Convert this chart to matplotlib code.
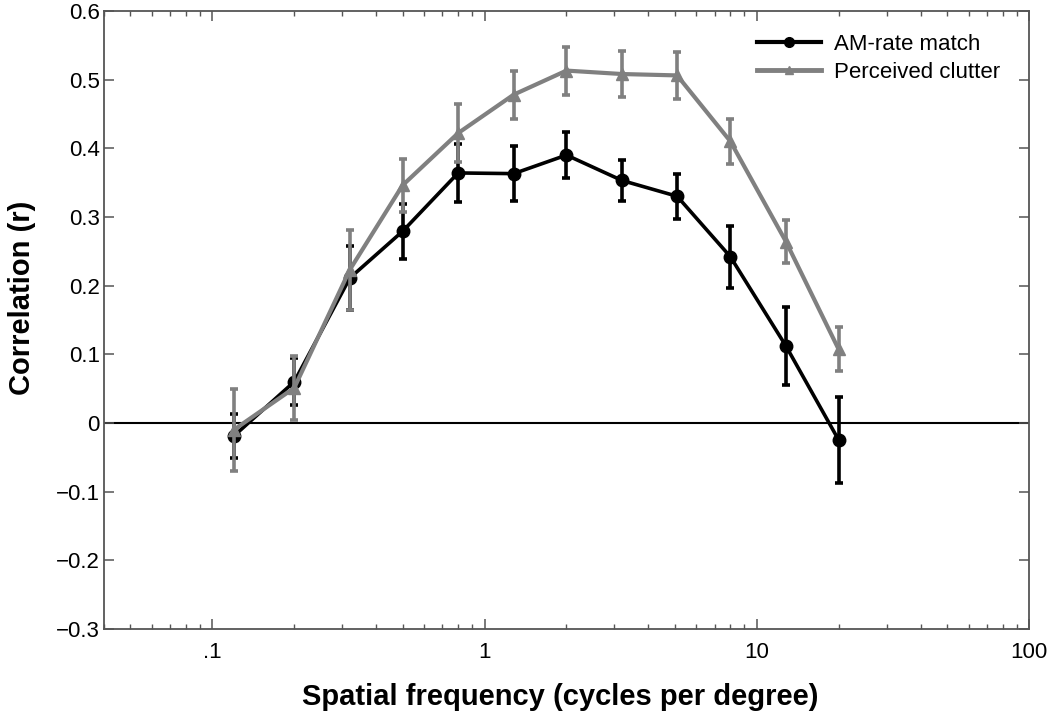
import matplotlib
matplotlib.use("Agg")
import matplotlib.pyplot as plt
from matplotlib.lines import Line2D
from matplotlib.ticker import FixedLocator, FixedFormatter, LogLocator, NullFormatter

# ---- data ----
freq = [0.12, 0.2, 0.32, 0.5, 0.8, 1.28, 2.0, 3.2, 5.1, 8.0, 12.8, 20.0]
am_rate = [-0.019, 0.060, 0.211, 0.279, 0.364, 0.363, 0.390, 0.353, 0.330, 0.242, 0.112, -0.025]
am_err = [0.032, 0.034, 0.046, 0.040, 0.042, 0.040, 0.034, 0.030, 0.033, 0.045, 0.057, 0.063]
clutter = [-0.010, 0.051, 0.223, 0.346, 0.422, 0.478, 0.513, 0.508, 0.506, 0.410, 0.264, 0.107]
clutter_err = [0.060, 0.047, 0.058, 0.039, 0.042, 0.035, 0.035, 0.033, 0.034, 0.033, 0.031, 0.032]
series_labels = ["AM-rate match", "Perceived clutter"]
xtick_vals = [0.1, 1, 10, 100]
xtick_labels = [".1", "1", "10", "100"]
ytick_vals = [-0.3, -0.2, -0.1, 0, 0.1, 0.2, 0.3, 0.4, 0.5, 0.6]
ytick_labels = ["\u22120.3", "\u22120.2", "\u22120.1", "0", "0.1", "0.2", "0.3", "0.4", "0.5", "0.6"]

plt.rcParams['font.family'] = ['Liberation Sans', 'DejaVu Sans']

fig = plt.figure(figsize=(10.5, 7.23), dpi=100)
ax = fig.add_axes([0.099, 0.130, 0.881, 0.855])

black = "#000000"
gray = "#808080"

ax.axhline(0, color="black", lw=1.5, zorder=1)

ax.errorbar(freq, am_rate, yerr=am_err, color=black, lw=2.6, marker="o",
            markersize=9, elinewidth=2.6, capsize=3, capthick=2.6, zorder=3)
ax.errorbar(freq, clutter, yerr=clutter_err, color=gray, lw=3, marker="^",
            markersize=9, elinewidth=2.6, capsize=3, capthick=2.6, zorder=4)

ax.set_xscale("log")
ax.set_xlim(0.04, 100)
ax.set_ylim(-0.3, 0.6)

ax.xaxis.set_major_locator(FixedLocator(xtick_vals))
ax.xaxis.set_major_formatter(FixedFormatter(xtick_labels))
ax.xaxis.set_minor_locator(LogLocator(base=10, subs=range(2, 10), numticks=20))
ax.xaxis.set_minor_formatter(NullFormatter())
ax.yaxis.set_major_locator(FixedLocator(ytick_vals))
ax.yaxis.set_major_formatter(FixedFormatter(ytick_labels))

axis_color = "#555555"
for sp in ax.spines.values():
    sp.set_color(axis_color)
    sp.set_linewidth(1.3)

ax.tick_params(which="both", direction="in", top=True, right=True,
               color=axis_color, labelcolor="black", labelsize=16)
ax.tick_params(which="major", length=7, width=1.1)
ax.tick_params(which="minor", length=3.5, width=1.0)
ax.tick_params(axis="x", pad=9)
ax.tick_params(axis="y", pad=3)

ax.set_xlabel("Spatial frequency (cycles per degree)", fontsize=21, fontweight="bold")
ax.set_ylabel("Correlation (r)", fontsize=21, fontweight="bold")
ax.xaxis.set_label_coords(0.493, -0.1094)
ax.xaxis.label.set_va("center")
ax.yaxis.set_label_coords(-0.0886, 0.536)
ax.yaxis.label.set_va("center")

handles = [
    Line2D([], [], color=black, lw=3, marker="o", markersize=7),
    Line2D([], [], color=gray, lw=3.5, marker="^", markersize=6),
]
ax.legend(handles, series_labels, loc="upper right", frameon=False, fontsize=16,
          handlelength=2.9, handletextpad=0.55, labelspacing=0.3,
          bbox_to_anchor=(0.99, 0.995))

fig.savefig("out.png", dpi=100, facecolor="white")
